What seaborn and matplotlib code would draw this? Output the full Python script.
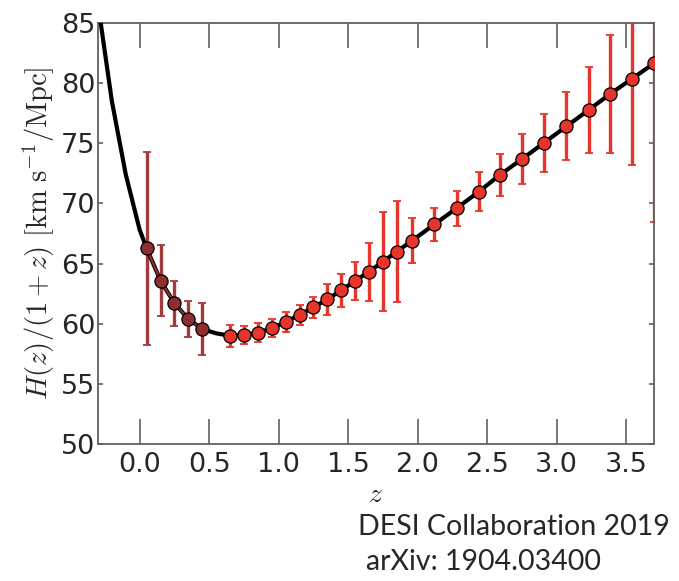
import numpy as np
import pandas as pd
import matplotlib
matplotlib.use("Agg")
import matplotlib.pyplot as plt
import seaborn as sns

# model curve H(z)/(1+z)
curve_z = [-0.30, -0.20, -0.10, 0.00, 0.05, 0.15, 0.25, 0.35, 0.45, 0.55, 0.65, 0.75, 0.85,
           0.95, 1.05, 1.15, 1.25, 1.35, 1.45, 1.55, 1.65, 1.75, 1.85, 1.96, 2.12, 2.28,
           2.44, 2.59, 2.75, 2.91, 3.07, 3.23, 3.38, 3.54, 3.70]
curve_h = [86.6, 78.5, 72.4, 67.8, 66.27, 63.58, 61.70, 60.40, 59.56, 59.2, 59.0, 59.07, 59.26,
           59.62, 60.15, 60.73, 61.37, 62.03, 62.78, 63.56, 64.33, 65.16, 66.0, 66.91, 68.26,
           69.6, 70.98, 72.36, 73.69, 75.05, 76.41, 77.77, 79.07, 80.35, 81.65]

# low-z points (dark red)
low_z = [0.05, 0.15, 0.25, 0.35, 0.45]
low_h = [66.27, 63.58, 61.70, 60.40, 59.56]
low_err = [8.0, 2.95, 1.85, 1.5, 2.2]

# high-z points (red)
high_z = [0.65, 0.75, 0.85, 0.95, 1.05, 1.15, 1.25, 1.35, 1.45, 1.55, 1.65, 1.75, 1.85,
          1.96, 2.12, 2.28, 2.44, 2.59, 2.75, 2.91, 3.07, 3.23, 3.38, 3.54, 3.70]
high_h = [59.0, 59.07, 59.26, 59.62, 60.15, 60.73, 61.37, 62.03, 62.78, 63.56, 64.33, 65.16,
          66.0, 66.91, 68.26, 69.6, 70.98, 72.36, 73.69, 75.05, 76.41, 77.77, 79.07, 80.35, 81.65]
high_err = [0.9, 0.75, 0.77, 0.75, 0.82, 0.86, 0.86, 1.28, 1.35, 1.6, 2.4, 4.1, 4.2,
            1.85, 1.35, 1.47, 1.6, 1.77, 2.05, 2.4, 2.83, 3.55, 4.9, 7.15, 13.2]

x_ticks = [0.0, 0.5, 1.0, 1.5, 2.0, 2.5, 3.0, 3.5]
y_ticks = [50, 55, 60, 65, 70, 75, 80, 85]

sns.set_style("white")
plt.rcParams['font.family'] = ['DejaVu Sans']
plt.rcParams['mathtext.fontset'] = 'cm'

fig = plt.figure(figsize=(6.79, 5.81), dpi=100)
ax = fig.add_axes([0.1443, 0.2358, 0.8189, 0.7246])

dark = '#8e2e2e'
dark_bar = '#9e3b3b'
red = '#e8352b'

curve = pd.DataFrame({'z': curve_z, 'h': curve_h})
sns.lineplot(data=curve, x='z', y='h', color='black', lw=3, sort=False, ax=ax, zorder=3)

# dark red points, joined by a thin line on top of the curve
ax.errorbar(low_z, low_h, yerr=low_err, fmt='none', ecolor=dark_bar, elinewidth=2.4,
            capsize=3, capthick=1.3, zorder=2)
ax.plot(low_z, low_h, color=dark, lw=1.6, zorder=4)
sns.scatterplot(x=low_z, y=low_h, color=dark, edgecolor='black', linewidth=0.9, s=90,
                ax=ax, zorder=5)

ax.errorbar(high_z, high_h, yerr=high_err, fmt='none', ecolor=red, elinewidth=2.4,
            capsize=3, capthick=1.3, zorder=2)
sns.scatterplot(x=high_z, y=high_h, color=red, edgecolor='black', linewidth=0.9, s=90,
                ax=ax, zorder=5)

ax.set_xlim(-0.3, 3.7)
ax.set_ylim(50, 85)
ax.set_xticks(x_ticks)
ax.set_xticklabels([f"{t:.1f}" for t in x_ticks])
ax.set_yticks(y_ticks)
ax.set_yticklabels([str(t) for t in y_ticks])

for s in ax.spines.values():
    s.set_color('#606060')
    s.set_linewidth(1.3)
    s.set_visible(True)

ax.tick_params(axis='x', direction='in', length=18, width=1.2, color='#606060',
               top=True, bottom=True, labelsize=19.5, pad=6)
ax.tick_params(axis='y', direction='in', length=3.6, width=1.2, color='#606060',
               left=True, right=True, labelsize=19.5, pad=2)

ax.set_xlabel('$z$', fontsize=20, labelpad=1)
ax.set_ylabel(r'$H(z)/(1+z)\ [\mathrm{km\ s^{-1}/Mpc}]$', fontsize=20.5, labelpad=3)

fig.text(358 / 679, 1 - 535 / 581, 'DESI Collaboration 2019', fontfamily='Lato',
         fontsize=20.5, va='baseline', ha='left')
fig.text(366 / 679, 1 - 570 / 581, 'arXiv: 1904.03400', fontfamily='Lato',
         fontsize=20.5, va='baseline', ha='left')

fig.savefig('out.png', dpi=100)
